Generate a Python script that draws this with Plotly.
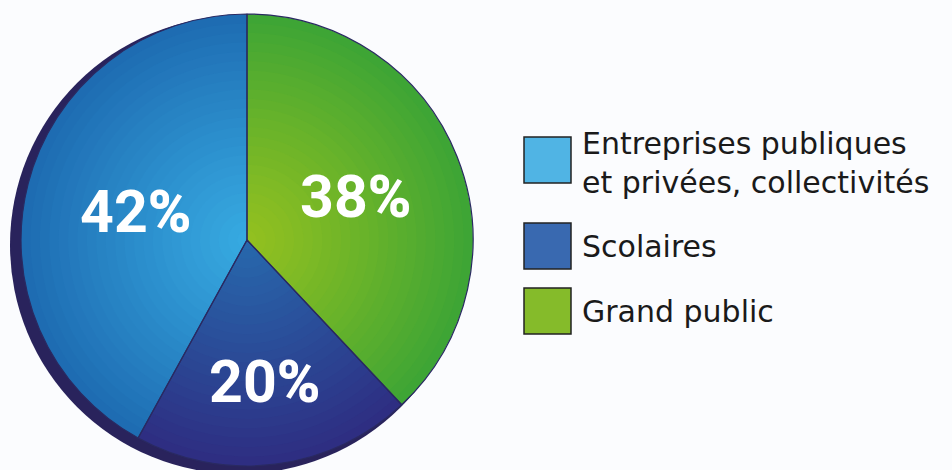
import plotly.graph_objects as go

# ---- data ----
labels = ["Entreprises publiques<br>et privées, collectivités", "Scolaires", "Grand public"]
values = [42, 20, 38]
legend_colors = ["#50b4e4", "#3969b0", "#85bb2a"]
center_colors = ["#37abe2", "#2769ad", "#95c11f"]
edge_colors = ["#1e6cb2", "#2e2e82", "#3ea535"]

W, H = 952, 470
CX, CY, R = 247, 240, 226

# pie drawn clockwise from 12 o'clock: Grand public, Scolaires, Entreprises
pie_labels = labels[::-1]
pie_values = values[::-1]
pie_center = center_colors[::-1]
pie_edge = edge_colors[::-1]


def hex2rgb(h):
    h = h.lstrip("#")
    return [int(h[i:i + 2], 16) for i in (0, 2, 4)]


def mix(c1, c2, t):
    a, b = hex2rgb(c1), hex2rgb(c2)
    return "rgb(%d,%d,%d)" % tuple(round(a[i] + (b[i] - a[i]) * t) for i in range(3))


def domain(r):
    return dict(x=[(CX - r) / W, (CX + r) / W], y=[1 - (CY + r) / H, 1 - (CY - r) / H])


fig = go.Figure()

N = 24
for k in range(N):
    f = 1 - k / N  # radius fraction, from outer to inner
    cols = [mix(pie_center[i], pie_edge[i], min(1, f ** 1.1)) for i in range(3)]
    fig.add_trace(go.Pie(
        labels=pie_labels, values=pie_values, sort=False, direction="clockwise",
        domain=domain(R * f), marker=dict(colors=cols, line=dict(width=0)),
        textinfo="none", hoverinfo="skip", showlegend=False,
    ))

# top outline + labels
fig.add_trace(go.Pie(
    labels=pie_labels, values=pie_values, sort=False, direction="clockwise",
    domain=domain(R),
    marker=dict(colors=["rgba(0,0,0,0)"] * 3, line=dict(color="#2a2a62", width=1.2)),
    texttemplate="<b>%{value}</b>%", textposition="inside",
    insidetextorientation="horizontal",
    textfont=dict(color="white", size=59, family="Roboto", weight=900),
    hovertemplate="%{label}: %{value}%<extra></extra>", showlegend=False,
))

# shadow behind pie
shapes = [dict(type="circle", xref="paper", yref="paper", layer="below",
               x0=(239 - 229) / W, x1=(239 + 229) / W,
               y0=1 - (245 + 229) / H, y1=1 - (245 - 229) / H,
               fillcolor="#29235c", line=dict(width=0))]

# custom legend
sq_top = [137, 223, 288]
txt_y = [163, 246, 311]
annotations = []
for i in range(3):
    shapes.append(dict(type="rect", xref="paper", yref="paper",
                       x0=524 / W, x1=571 / W, y0=1 - (sq_top[i] + 46) / H, y1=1 - sq_top[i] / H,
                       fillcolor=legend_colors[i], line=dict(color="#222222", width=1.5)))
    annotations.append(dict(xref="paper", yref="paper", x=580 / W, y=1 - txt_y[i] / H,
                            xanchor="left", yanchor="middle", align="left", showarrow=False,
                            text=labels[i], font=dict(family="DejaVu Sans", size=30, color="#1a1a1a")))

fig.update_layout(
    width=W, height=H, margin=dict(l=0, r=0, t=0, b=0),
    paper_bgcolor="#fbfcfe", plot_bgcolor="#fbfcfe",
    shapes=shapes, annotations=annotations, showlegend=False,
)

fig.write_html("out.html", config={"displayModeBar": False},
               post_script="document.body.style.margin='0';document.body.style.background='#fbfcfe';document.body.style.overflow='hidden';")
